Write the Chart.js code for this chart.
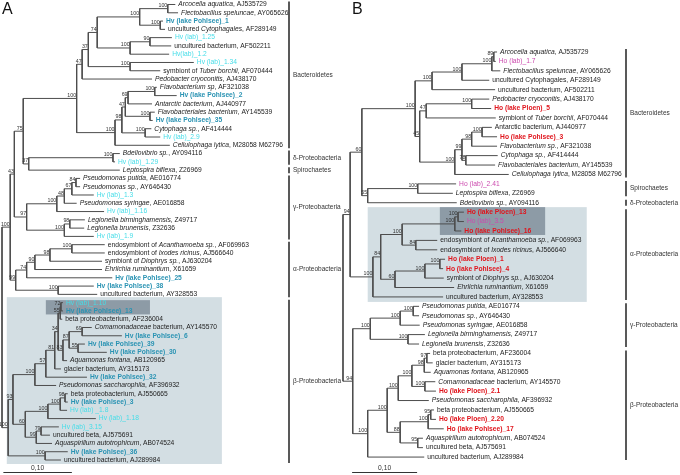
<!DOCTYPE html>
<html lang="en">
<head>
<meta charset="UTF-8">
<title>Phylogenetic trees A / B</title>
<style>
  * { margin: 0; padding: 0; box-sizing: border-box; }
  body { width: 680px; height: 475px; background: #fff; overflow: hidden; position: relative; }
  .panel { position: absolute; top: 0; height: 475px; }
  #panelA { left: 0; width: 350px; }
  #panelB { left: 338px; width: 342px; }
</style>
</head>
<body>
<div class="panel" id="panelA"><canvas id="treeA"></canvas></div>
<div class="panel" id="panelB"><canvas id="treeB"></canvas></div>

<script src="https://cdn.jsdelivr.net/npm/chart.js"></script>
<script>
// ---------- panel A: Hv tree ----------
// leaf labels, top to bottom (*...* = italic)
const aLeaves = [
  '*Arcocella aquatica*, AJ535729', '*Flectobacillus speluncae*, AY065626', 'Hv (lake Pohlsee)_1',
  'uncultured *Cytophagales*, AF289149', 'Hv (lab)_1.25', 'uncultured bacterium, AF502211', 'Hv(lab)_1.2',
  'Hv (lab)_1.34', 'symbiont of *Tuber borchii*, AF070444', '*Pedobacter cryoconitis*, AJ438170',
  '*Flavobacterium sp*, AF321038', 'Hv (lake Pohlsee)_2', '*Antarctic bacterium*, AJ440977',
  '*Flavobacteriales bacterium*, AY145539', 'Hv (lake Pohlsee)_35', '*Cytophaga sp.*, AF414444',
  'Hv (lab)_2.9', '*Cellulophaga lytica*, M28058 M62796', '*Bdellovibrio sp.*, AY094116', 'Hv (lab)_1.29',
  '*Leptospira biflexa*, Z26969', '*Pseudomonas putida*, AE016774', '*Pseudomonas sp.*, AY646430',
  'Hv (lab)_1.3', '*Pseudomonas syringae*, AE016858', 'Hv (lab)_1.16', '*Legionella birminghamensis*, Z49717',
  '*Legionella brunensis*, Z32636', 'Hv (lab)_1.9', 'endosymbiont of *Acanthamoeba sp.*, AF069963',
  'endosymbiont of *Ixodes ricinus*, AJ566640', 'symbiont of *Diophrys sp.*, AJ630204',
  '*Ehrlichia ruminantium*, X61659', 'Hv (lake Pohlsee)_25', 'Hv (lake Pohlsee)_38',
  'uncultured bacterium, AY328553', 'Hv (lab)_1.10', 'Hv (lake Pohlsee)_13', 'beta proteobacterium, AF236004',
  '*Comamonadaceae* bacterium, AY145570', 'Hv (lake Pohlsee)_6', 'Hv (lake Pohlsee)_39',
  'Hv (lake Pohlsee)_30', '*Aquamonas fontana*, AB120965', 'glacier bacterium, AY315173',
  'Hv (lake Pohlsee)_32', '*Pseudomonas saccharophila*, AF396932', 'beta proteobacterium, AJ550665',
  'Hv (lake Pohlsee)_3', 'Hv (lab) _1.8', 'Hv (lab)_1.18', 'Hv (lab)_3.15', 'uncultured beta, AJ575691',
  '*Aquaspirillum autotrophicum*, AB074524', 'Hv (lake Pohlsee)_36', 'uncultured bacterium, AJ289984'
];
// distance from root to each leaf (substitutions/site)
const aTips = [
  0.253, 0.257, 0.235, 0.238, 0.248, 0.247, 0.244, 0.280, 0.231, 0.219,
  0.226, 0.255, 0.219, 0.223, 0.220, 0.218, 0.231, 0.245, 0.172, 0.165,
  0.172, 0.114, 0.114, 0.134, 0.109, 0.149, 0.121, 0.120, 0.134, 0.150,
  0.150, 0.146, 0.146, 0.161, 0.134, 0.139, 0.089, 0.089, 0.088, 0.131,
  0.175, 0.121, 0.153, 0.095, 0.086, 0.124, 0.079, 0.096, 0.096, 0.095,
  0.137, 0.083, 0.070, 0.073, 0.096, 0.086
];
// internal nodes (children: number = leaf, string = node)
const aNodeNames = ['a1','a2','a3','a4','a5','a6','a7','a8','a9','a10','a11','a12','a13','a14','a15','a16','a17','a18',
  'a19','a20','a21','a22','a23','a24','a25','a26','a27','a28','a29','a30','a31','a32','a33','a34','a35','a36','a37',
  'a38','a39','a40','a41','a42','a43','a44','a45','a46','a47','a48','a49','a50','a51','a52','a53','a54','a55'];
const aNodeKids = [
  [0,1],[2,3],['a1','a2'],[4,5],['a4',6],['a3','a5'],[7,8],['a6','a7'],['a8',9],[10,11],['a10',12],[13,14],
  ['a11','a12'],[15,16],['a13','a14'],['a15',17],['a9','a16'],[18,19],['a18',20],['a17','a19'],[21,22],['a21',23],
  ['a22',24],['a23',25],[26,27],['a25',28],['a24','a26'],['a20','a27'],[29,30],['a29',31],['a30',32],['a31',33],
  [34,35],['a32','a33'],['a28','a34'],[36,37],['a36',38],[39,40],[41,42],['a38','a39'],['a40',43],['a37','a41'],
  ['a42',44],['a43',45],['a44',46],[47,48],['a46',49],['a47',50],[51,52],['a49',53],['a48','a50'],['a45','a51'],
  [54,55],['a52','a53'],['a35','a54']
];
const aNodeDepth = [
  0.242, 0.231, 0.201, 0.216, 0.187, 0.139, 0.187, 0.126, 0.117, 0.223, 0.184, 0.216, 0.180, 0.209, 0.175,
  0.165, 0.109, 0.162, 0.039, 0.031, 0.108, 0.102, 0.091, 0.080, 0.099, 0.091, 0.036, 0.018, 0.102, 0.070,
  0.048, 0.036, 0.082, 0.020, 0.012, 0.086, 0.085, 0.117, 0.111, 0.098, 0.089, 0.082, 0.077, 0.064, 0.048,
  0.092, 0.085, 0.067, 0.057, 0.050, 0.034, 0.016, 0.063, 0.009, 0
];
const aNodeBoot = [
  100, 100, 100, 90, 100, 74, 100, 37, 47, 100, 69, 100, 47, 100, 98, 100, 100, 100, 37, 75,
  84, 67, 48, 100, 98, 100, 97, 43, 100, 98, 90, 74, 100, 99, 100, 72, 55, 69, 55, 87,
  83, 34, 81, 57, 100, 98, 100, 100, 79, 99, 60, 93, 100, 100, null
];
const aGroupNames = ['Bacteroidetes', 'δ-Proteobacteria', 'Spirochaetes', 'γ-Proteobacteria', 'α-Proteobacteria', 'β-Proteobacteria'];
const aGroupFirst = [0, 18, 20, 21, 29, 36];
const aGroupLast  = [17, 19, 20, 28, 35, 55];

// ---------- panel B: Ho tree ----------
const bLeaves = [
  '*Arcocella aquatica*, AJ535729', 'Ho (lab)_1.7', '*Flectobacillus speluncae*, AY065626',
  'uncultured Cytophagales, AF289149', 'uncultured bacterium, AF502211', '*Pedobacter cryoconitis*, AJ438170',
  'Ho (lake Ploen)_5', 'symbiont of *Tuber borchii*, AF070444', 'Antarctic bacterium, AJ440977',
  'Ho (lake Pohlsee)_3', '*Flavobacterium sp.*, AF321038', '*Cytophaga sp.*, AF414444',
  '*Flavobacteriales bacterium*, AY145539', '*Cellulophaga lytica*, M28058 M62796', 'Ho (lab)_2.41',
  '*Leptospira biflexa*, Z26969', '*Bdellovibrio sp.*, AY094116', 'Ho (lake Ploen)_13', 'Ho (lab)_3.5',
  'Ho (lake Pohlsee)_16', 'endosymbiont of *Acanthamoeba sp.*, AF069963', 'endosymbiont of *Ixodes ricinus*, AJ566640',
  'Ho (lake Ploen)_1', 'Ho (lake Pohlsee)_4', 'symbiont of *Diophrys sp.*, AJ630204', '*Ehrlichia ruminantium*, X61659',
  'uncultured bacterium, AY328553', '*Pseudomonas putida*, AE016774', '*Pseudomonas sp.*, AY646430',
  '*Pseudomonas syringae*, AE016858', '*Legionella birminghamensis*, Z49717', '*Legionella brunensis*, Z32636',
  'beta proteobacterium, AF236004', 'glacier bacterium, AY315173', '*Aquamonas fontana*, AB120965',
  '*Comamonadaceae* bacterium, AY145570', 'Ho (lake Ploen)_2.1', '*Pseudomonas saccharophila*, AF396932',
  'beta proteobacterium, AJ550665', 'Ho (lake Ploen)_2.20', 'Ho (lake Pohlsee)_17',
  '*Aquaspirillum autotrophicum*, AB074524', 'uncultured beta, AJ575691', 'uncultured bacterium, AJ289984'
];
const bTips = [
  0.237, 0.235, 0.242, 0.225, 0.234, 0.225, 0.228, 0.235, 0.229, 0.237,
  0.237, 0.238, 0.234, 0.255, 0.174, 0.169, 0.175, 0.186, 0.186, 0.182,
  0.145, 0.145, 0.157, 0.154, 0.155, 0.171, 0.154, 0.117, 0.117, 0.118,
  0.126, 0.117, 0.134, 0.138, 0.135, 0.142, 0.143, 0.132, 0.140, 0.143,
  0.155, 0.123, 0.123, 0.125
];
const bNodeNames = ['b1','b2','b3','b4','b5','b6','b7','b8','b9','b10','b11','b12','b13','b14','b15','b16','b17',
  'b18','b19','b20','b21','b22','b23','b24','b25','b26','b27','b28','b29','b30','b31','b32','b33','b34','b35','b36',
  'b37','b38','b39','b40','b41','b42','b43'];
const bNodeKids = [
  [0,1],['b1',2],['b2',3],['b3',4],[5,6],['b5',7],[8,9],['b7',10],[11,12],['b8','b9'],['b10',13],['b6','b11'],
  ['b4','b12'],[14,15],['b14',16],['b13','b15'],[17,18],['b17',19],[20,21],['b18','b19'],[22,23],['b21',24],
  ['b22',25],['b20','b23'],['b24',26],['b16','b25'],[27,28],['b27',29],[30,31],['b28','b29'],[32,33],['b31',34],
  [35,36],['b32','b33'],['b34',37],[38,39],['b36',40],[41,42],['b37','b38'],['b35','b39'],['b40',43],
  ['b30','b41'],['b26','b42']
];
const bNodeDepth = [
  0.232, 0.229, 0.183, 0.137, 0.198, 0.128, 0.214, 0.198, 0.189, 0.183, 0.172, 0.118, 0.111, 0.115, 0.038,
  0.029, 0.177, 0.172, 0.112, 0.091, 0.149, 0.126, 0.080, 0.058, 0.046, 0.011, 0.108, 0.088, 0.100, 0.042,
  0.129, 0.125, 0.126, 0.106, 0.085, 0.135, 0.131, 0.115, 0.088, 0.068, 0.038, 0.015, 0
];
const bNodeBoot = [
  89, 100, 100, 100, 100, 47, 100, 98, 78, 99, 100, 45, 100, 100, 55, 60, 100, 100, 84, 100,
  100, 100, 60, 84, 100, 94, 100, 100, 100, 100, 97, 98, 100, 100, 100, 95, 100, 95, 88, 100,
  100, 94, null
];
const bGroupNames = ['Bacteroidetes', 'Spirochaetes', 'δ-Proteobacteria', 'α-Proteobacteria', 'γ-Proteobacteria', 'β-Proteobacteria'];
const bGroupFirst = [0, 14, 16, 17, 27, 32];
const bGroupLast  = [13, 15, 16, 26, 31, 43];

const SCALE_LEN = 0.10;

// ---------- drawing ----------
const FONT = '"Liberation Sans", Arial, sans-serif';

function layoutTree(tips, names, kids, depths) {
  const pos = {};
  tips.forEach((d, i) => { pos[i] = { x: d, y: i }; });
  names.forEach((nm, j) => {
    const ks = kids[j].map(k => pos[k]);
    pos[nm] = { x: depths[j], y: (ks[0].y + ks[ks.length - 1].y) / 2 };
  });
  return pos;
}

// one long polyline, broken with null points between branches
function branchPoints(pos, names, kids) {
  const pts = [];
  names.forEach((nm, j) => {
    const p = pos[nm];
    const ks = kids[j].map(k => pos[k]);
    pts.push({ x: p.x, y: ks[0].y }, { x: p.x, y: ks[ks.length - 1].y }, { x: p.x, y: null });
    ks.forEach(k => pts.push({ x: p.x, y: k.y }, { x: k.x, y: k.y }, { x: k.x, y: null }));
  });
  return pts;
}

function labelStyle(text) {
  if (/^Hv.*lake/.test(text)) return { color: '#2a93b3', weight: 'bold' };
  if (/^Hv/.test(text)) return { color: '#45dde8', weight: 'normal' };
  if (/^Ho.*lake/.test(text)) return { color: '#e0141c', weight: 'bold' };
  if (/^Ho/.test(text)) return { color: '#cc4aae', weight: 'normal' };
  return { color: '#222', weight: 'normal' };
}

function drawLabel(ctx, text, px, py) {
  const s = labelStyle(text);
  let cx = px;
  text.split('*').forEach((part, i) => {
    if (!part) return;
    ctx.font = (i % 2 ? 'italic ' : '') + s.weight + ' 6.7px ' + FONT;
    ctx.fillStyle = s.color;
    ctx.fillText(part, cx, py);
    cx += ctx.measureText(part).width;
  });
}

function textPlugin(p, pos) {
  return {
    id: 'treeText',
    beforeDatasetsDraw(chart) {
      const { ctx } = chart;
      const xs = chart.scales.x, ys = chart.scales.y;
      ctx.save();
      p.boxes.forEach(b => {
        const top = ys.getPixelForValue(b.from) - b.padTop;
        const bot = ys.getPixelForValue(b.to) + b.padBottom;
        const l = xs.getPixelForValue(b.x0), r = xs.getPixelForValue(b.x1);
        ctx.fillStyle = b.color;
        ctx.fillRect(l, top, r - l, bot - top);
      });
      ctx.restore();
    },
    afterDatasetsDraw(chart) {
      const { ctx } = chart;
      const xs = chart.scales.x, ys = chart.scales.y;
      ctx.save();

      // leaf names
      ctx.textAlign = 'left';
      ctx.textBaseline = 'middle';
      p.leaves.forEach((name, i) => {
        drawLabel(ctx, name, xs.getPixelForValue(p.tips[i]) + 3, ys.getPixelForValue(i));
      });

      // bootstrap values
      ctx.font = '5.3px ' + FONT;
      ctx.fillStyle = '#333';
      ctx.textAlign = 'right';
      ctx.textBaseline = 'bottom';
      p.nodeNames.forEach((nm, j) => {
        if (p.nodeBoot[j] == null) return;
        const n = pos[nm];
        ctx.fillText(String(p.nodeBoot[j]), xs.getPixelForValue(n.x) - 0.5, ys.getPixelForValue(n.y) - 0.3);
      });

      // group brackets
      ctx.strokeStyle = '#222';
      ctx.lineWidth = 1.5;
      ctx.font = '6.5px ' + FONT;
      ctx.fillStyle = '#333';
      ctx.textAlign = 'left';
      ctx.textBaseline = 'middle';
      p.groupNames.forEach((g, i) => {
        const y0 = ys.getPixelForValue(p.groupFirst[i]) - 3;
        const y1 = ys.getPixelForValue(p.groupLast[i]) + 3;
        ctx.beginPath();
        ctx.moveTo(p.bracketPx, y0);
        ctx.lineTo(p.bracketPx, y1);
        ctx.stroke();
        ctx.fillText(g, p.bracketPx + 4, (y0 + y1) / 2);
      });

      // scale bar
      const sx0 = xs.getPixelForValue(p.scaleStart);
      const sx1 = xs.getPixelForValue(p.scaleStart + SCALE_LEN);
      const sy = chart.height - 2.5;
      ctx.strokeStyle = '#333';
      ctx.lineWidth = 1.2;
      ctx.beginPath();
      ctx.moveTo(sx0, sy);
      ctx.lineTo(sx1, sy);
      ctx.stroke();
      ctx.font = '6.7px ' + FONT;
      ctx.textAlign = 'center';
      ctx.textBaseline = 'alphabetic';
      ctx.fillText(SCALE_LEN.toFixed(2).replace('.', ','), (sx0 + sx1) / 2, sy - 3);

      // panel letter
      ctx.font = '16px ' + FONT;
      ctx.fillStyle = '#111';
      ctx.textAlign = 'left';
      ctx.fillText(p.letter, p.letterPx, 14);
      ctx.restore();
    }
  };
}

function makeTree(canvasId, p) {
  const pos = layoutTree(p.tips, p.nodeNames, p.nodeKids, p.nodeDepth);
  return new Chart(document.getElementById(canvasId), {
    type: 'scatter',
    data: {
      datasets: [{
        data: branchPoints(pos, p.nodeNames, p.nodeKids),
        showLine: true,
        spanGaps: false,
        borderColor: '#4d4d4d',
        borderWidth: 1,
        pointRadius: 0,
        tension: 0
      }]
    },
    options: {
      responsive: true,
      maintainAspectRatio: false,
      animation: false,
      devicePixelRatio: 1,
      events: [],
      layout: { padding: 0 },
      scales: {
        x: { type: 'linear', display: false, min: p.xMin, max: p.xMax },
        y: { type: 'linear', display: false, reverse: true, min: p.yMin, max: p.yMax }
      },
      plugins: { legend: { display: false }, tooltip: { enabled: false } }
    },
    plugins: [textPlugin(p, pos)]
  });
}

makeTree('treeA', {
  letter: 'A', letterPx: 2, bracketPx: 289, scaleStart: 0.002,
  leaves: aLeaves, tips: aTips, nodeNames: aNodeNames, nodeKids: aNodeKids, nodeDepth: aNodeDepth, nodeBoot: aNodeBoot,
  groupNames: aGroupNames, groupFirst: aGroupFirst, groupLast: aGroupLast,
  xMin: -0.00292, xMax: 0.50803, yMin: -0.5433, yMax: 56.81,
  boxes: [
    { from: 36, to: 55, x0: 0.007, x1: 0.321, padTop: 5.5, padBottom: 4, color: '#d3dee3' },
    { from: 36, to: 37, x0: 0.064, x1: 0.216, padTop: 2.5, padBottom: 3.5, color: '#8d9ba6' }
  ]
});

makeTree('treeB', {
  letter: 'B', letterPx: 14, bracketPx: 288, scaleStart: 0.014,
  leaves: bLeaves, tips: bTips, nodeNames: bNodeNames, nodeKids: bNodeKids, nodeDepth: bNodeDepth, nodeBoot: bNodeBoot,
  groupNames: bGroupNames, groupFirst: bGroupFirst, groupLast: bGroupLast,
  xMin: -0.00769, xMax: 0.51846, yMin: -5.520, yMax: 44.904,
  boxes: [
    { from: 17, to: 26, x0: 0.038, x1: 0.375, padTop: 5, padBottom: 5, color: '#d3dee3' },
    { from: 17, to: 19, x0: 0.149, x1: 0.311, padTop: 5, padBottom: 4, color: '#8d9ba6' }
  ]
});
</script>
</body>
</html>
